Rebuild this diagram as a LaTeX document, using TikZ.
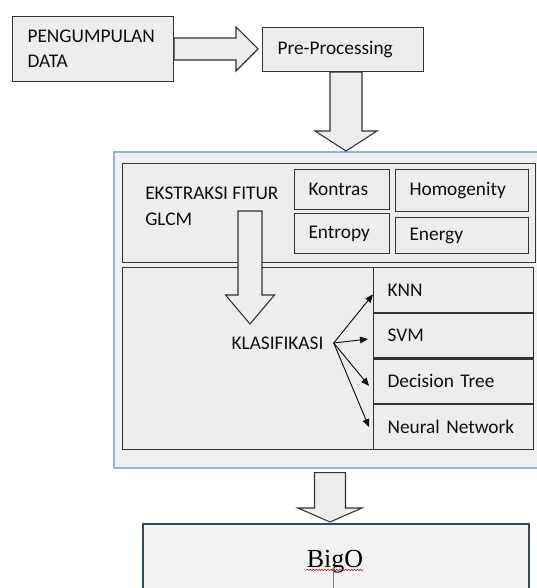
\documentclass[tikz,border=0pt]{standalone}
\usepackage{fontspec}
\setmainfont{Carlito}
\newfontfamily\serifface{Liberation Serif}
\usetikzlibrary{arrows.meta, positioning, calc, decorations.pathmorphing}
\definecolor{cellfill}{HTML}{EDEDED}
\definecolor{cellline}{HTML}{333333}
\definecolor{corefill}{HTML}{F0F0F0}
\definecolor{coreline}{HTML}{8FB3E2}
\definecolor{bigline}{HTML}{2F4A62}
\definecolor{bigfill}{HTML}{F2F2F2}
\definecolor{inktext}{HTML}{0E0E0E}
\newcommand{\cellfont}{\fontsize{14.5}{19}\selectfont}
\newcommand{\fatright}[5]{%
  \draw[blockarrow] let \p1=(#1), \p2=(#2) in
    (\x1,\y2+#3*0.75pt) -- (\x2-#5*0.75pt,\y2+#3*0.75pt) -- (\x2-#5*0.75pt,\y2+#4*0.75pt)
    -- (\p2) -- (\x2-#5*0.75pt,\y2-#4*0.75pt) -- (\x2-#5*0.75pt,\y2-#3*0.75pt)
    -- (\x1,\y2-#3*0.75pt) -- cycle;}
\newcommand{\fatdown}[5]{%
  \draw[blockarrow] let \p1=(#1), \p2=(#2) in
    (\x2-#3*0.75pt,\y1) -- (\x2-#3*0.75pt,\y2+#5*0.75pt) -- (\x2-#4*0.75pt,\y2+#5*0.75pt)
    -- (\p2) -- (\x2+#4*0.75pt,\y2+#5*0.75pt) -- (\x2+#3*0.75pt,\y2+#5*0.75pt)
    -- (\x2+#3*0.75pt,\y1) -- cycle;}
\tikzset{
  cell/.style       = {draw=cellline, fill=cellfill, line width=0.8pt, text=inktext,
                       font=\cellfont, align=left, inner ysep=0pt, anchor=north west},
  panel/.style      = {draw=cellline, fill=cellfill, line width=0.9pt, anchor=north west},
  corebox/.style    = {draw=coreline, fill=corefill, line width=1.2pt, anchor=north west},
  bigbox/.style     = {draw=bigline, fill=bigfill, line width=1.5pt, anchor=north west},
  caption/.style    = {font=\cellfont, text=inktext, align=left, inner sep=0pt},
  blockarrow/.style = {draw=cellline, fill=cellfill, line width=0.8pt, line join=miter},
  pick/.style       = {-{Triangle[length=6pt, width=5pt]}, line width=0.7pt, draw=inktext},
  squiggle/.style   = {draw=red!80!black, line width=0.4pt,
                       decorate, decoration={snake, amplitude=0.5pt, segment length=2.2pt}},
}

\begin{document}
\begin{tikzpicture}[x=0.75pt, y=-0.75pt]
        \useasboundingbox (0,0) rectangle (536,588);
        \node[cell, minimum width=120.75pt, minimum height=48.75pt, text width=98.25pt,
              inner xsep=11.25pt] (data) at (12,16) {PENGUMPULAN\\DATA};
        \node[cell, minimum width=120.75pt, minimum height=33pt, text width=98.25pt,
              inner xsep=11.25pt] (pre) at (262,27) {Pre-Processing};
        \node[corebox, minimum width=324pt, minimum height=237pt] (core) at (113,151) {};
        \node[panel, minimum width=309.75pt, minimum height=74.25pt] (glcm) at (122,163) {};
        \node[panel, minimum width=308.25pt, minimum height=136.5pt] (clspanel) at (122,267) {};
        \node[caption, anchor=north west] (glcmtxt) at (145,187) {EKSTRAKSI FITUR\\GLCM};
        \node[cell, minimum width=71.25pt, minimum height=30pt, text width=50.25pt,
              inner xsep=10.5pt] (kontras) at (294,169) {Kontras};
        \node[cell, minimum width=71.25pt, minimum height=30pt, text width=50.25pt,
              inner xsep=10.5pt] (entropy) at (294,213) {Entropy};
        \node[cell, minimum width=99.75pt, minimum height=31.5pt, text width=78.75pt,
              inner xsep=10.5pt] (homog) at (395,169) {Homogenity};
        \node[cell, minimum width=99.75pt, minimum height=27pt, text width=78.75pt,
              inner xsep=10.5pt] (energy) at (395,217) {Energy};
        \node[cell, minimum width=120pt, minimum height=33.5pt, text width=99pt,
              inner xsep=10.5pt] (knn) at (373,267) {KNN};
        \node[cell, minimum width=120pt, minimum height=33.5pt, text width=99pt,
              inner xsep=10.5pt, below=0pt of knn] (svm) {SVM};
        \node[cell, minimum width=120pt, minimum height=33.5pt, text width=99pt,
              inner xsep=10.5pt, below=0pt of svm] (dtree) {Decision Tree};
        \node[cell, minimum width=120pt, minimum height=33.5pt, text width=99pt,
              inner xsep=10.5pt, below=0pt of dtree] (nnet) {Neural Network};
        \node[caption, inner xsep=7.5pt] (klas) at (277.5,343) {KLASIFIKASI};
        \draw[pick] (klas.east) -- ([yshift=-3.4pt]knn.west);
        \draw[pick] (klas.east) -- ([xshift=-3.75pt, yshift=-2.6pt]svm.west);
        \draw[pick] (klas.east) -- ([xshift=-3pt, yshift=-3.4pt]dtree.west);
        \draw[pick] (klas.east) -- ([xshift=-3pt]nnet.west);
        \node[bigbox, minimum width=289.5pt, minimum height=80pt] (final) at (142,523) {};
        \node[font=\serifface\fontsize{19.5}{23}\selectfont, text=black, inner sep=0pt,
              anchor=base] (bigo) at (335,567) {BigO};
        \draw[squiggle] ([yshift=-2.2pt]bigo.base west) -- ([yshift=-2.2pt]bigo.base east);
        \draw[gray, line width=0.6pt] ([xshift=-1.5pt, yshift=-1pt]bigo.base) -- ++(0,22);
        \coordinate (pretip) at (346,151);
        \coordinate (droptop) at (250,211);
        \coordinate (droptip) at (250,324);
        \coordinate (lasttip) at (330,522);
        \fatright{data.east}{258,49}{11}{22}{22}
        \fatdown{pre.south}{pretip}{16}{31}{20}
        \fatdown{droptop}{droptip}{12}{24.5}{29}
        \fatdown{[yshift=-3pt]core.south}{lasttip}{15.5}{32}{14}
\end{tikzpicture}
\end{document}
